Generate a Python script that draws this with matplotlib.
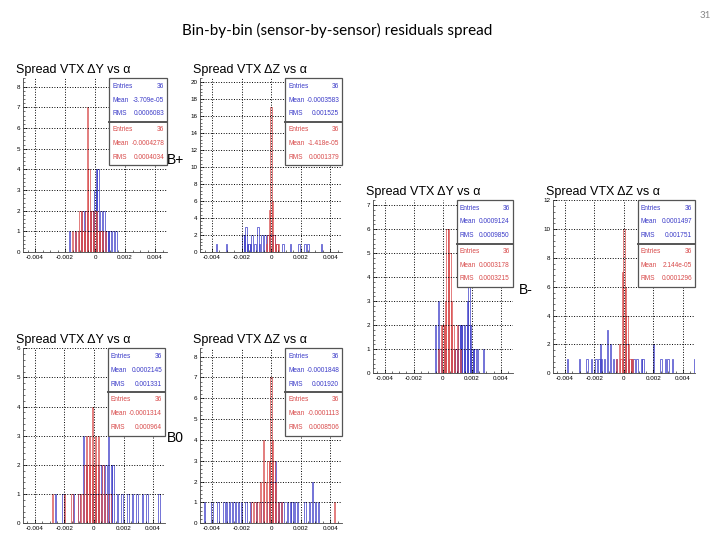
import numpy as np
import matplotlib.pyplot as plt
from matplotlib.patches import Rectangle

plt.rcParams['font.family'] = ['Liberation Sans', 'DejaVu Sans']

# ---- B+  dY (bin centre, entries) ----
bp_dy_blue_x = [-0.0017, -0.0013, -0.0010, -0.0008, -0.0006, -0.0004, -0.0003, -0.0002, -0.0001, 0.0000,
                0.0001, 0.0002, 0.0003, 0.0004, 0.0005, 0.0006, 0.0008, 0.0009, 0.0010, 0.0012, 0.0014]
bp_dy_blue_n = [1, 1, 1, 2, 2, 1, 2, 2, 2, 3, 4, 4, 1, 2, 1, 2, 1, 1, 1, 1, 1]
bp_dy_red_x = [-0.0015, -0.0013, -0.0011, -0.0010, -0.0009, -0.0008, -0.0007, -0.0006, -0.0005, -0.0004,
               -0.0003, -0.0002, -0.0001, 0.0000, 0.0001, 0.0002, 0.0003, 0.0004, 0.0005, 0.0007]
bp_dy_red_n = [1, 1, 1, 2, 2, 1, 1, 2, 7, 4, 2, 2, 1, 2, 2, 1, 1, 1, 1, 1]

# ---- B+  dZ ----
bp_dz_blue_x = [-0.0037, -0.0030, -0.0019, -0.0018, -0.0017, -0.0016, -0.0015, -0.0014, -0.0013, -0.0011,
                -0.0009, -0.0008, -0.0006, -0.0004, -0.0002, 0.0000, 0.0002, 0.0004, 0.0008, 0.0013,
                0.0019, 0.0023, 0.0025, 0.0034]
bp_dz_blue_n = [1, 1, 2, 2, 3, 1, 1, 1, 2, 1, 3, 1, 2, 2, 2, 2, 2, 1, 1, 1, 1, 1, 1, 1]
bp_dz_red_x = [-0.0003, -0.0002, -0.0001, 0.0000, 0.0001, 0.0002, 0.0003, 0.0004, 0.0005]
bp_dz_red_n = [1, 2, 5, 17, 6, 2, 1, 1, 1]

# ---- B-  dY ----
bm_dy_blue_x = [-0.0005, -0.0003, -0.0001, 0.0002, 0.0006, 0.0008, 0.0009, 0.0010, 0.0011, 0.0012, 0.0013,
                0.0014, 0.0015, 0.0016, 0.0017, 0.0018, 0.0019, 0.0020, 0.0021, 0.0022, 0.0024, 0.0028]
bm_dy_blue_n = [2, 3, 1, 1, 1, 1, 1, 1, 2, 2, 2, 2, 1, 2, 3, 4, 2, 1, 1, 1, 1, 1]
bm_dy_red_x = [-0.0003, -0.0001, 0.0000, 0.0001, 0.0002, 0.0003, 0.0004, 0.0005, 0.0006, 0.0007, 0.0008,
               0.0010, 0.0012]
bm_dy_red_n = [1, 2, 2, 2, 3, 6, 6, 5, 3, 2, 1, 2, 1]

# ---- B-  dZ ----
bm_dz_blue_x = [-0.0038, -0.0030, -0.0025, -0.0022, -0.0019, -0.0017, -0.0016, -0.0015, -0.0013, -0.0011,
                -0.0009, -0.0007, -0.0005, 0.0000, 0.0002, 0.0003, 0.0005, 0.0007, 0.0009, 0.0012, 0.0013,
                0.0020, 0.0025, 0.0028, 0.0030, 0.0033, 0.0048]
bm_dz_blue_n = [1, 1, 1, 1, 1, 1, 2, 1, 1, 3, 2, 1, 1, 1, 2, 1, 1, 1, 1, 1, 1, 2, 1, 1, 1, 1, 1]
bm_dz_red_x = [-0.0005, -0.0003, -0.0002, -0.0001, 0.0000, 0.0001, 0.0002, 0.0003, 0.0004, 0.0005, 0.0006]
bm_dz_red_n = [1, 2, 1, 7, 10, 6, 4, 2, 1, 1, 1]

# ---- B0  dY ----
b0_dy_blue_x = [-0.0026, -0.0021, -0.0014, -0.0010, -0.0007, -0.0005, -0.0002, 0.0000, 0.0002, 0.0003,
                0.0004, 0.0006, 0.0008, 0.0010, 0.0012, 0.0013, 0.0016, 0.0019, 0.0023, 0.0026, 0.0029,
                0.0033, 0.0036, 0.0044]
b0_dy_blue_n = [1, 1, 1, 1, 3, 2, 1, 1, 1, 1, 2, 2, 2, 5, 2, 2, 1, 1, 1, 1, 1, 1, 1, 1]
b0_dy_red_x = [-0.0028, -0.0020, -0.0015, -0.0010, -0.0008, -0.0006, -0.0005, -0.0004, -0.0003, -0.0002,
               -0.0001, 0.0000, 0.0001, 0.0002, 0.0003, 0.0004, 0.0006, 0.0008, 0.0011]
b0_dy_red_n = [1, 1, 1, 1, 1, 2, 3, 2, 3, 2, 4, 2, 3, 2, 3, 1, 2, 1, 1]

# ---- B0  dZ ----
b0_dz_blue_x = [-0.0045, -0.0040, -0.0036, -0.0032, -0.0030, -0.0028, -0.0026, -0.0024, -0.0022, -0.0020,
                -0.0017, -0.0014, -0.0010, -0.0006, -0.0002, 0.0000, 0.0002, 0.0003, 0.0005, 0.0006,
                0.0008, 0.0011, 0.0013, 0.0014, 0.0016, 0.0018, 0.0023, 0.0026, 0.0028, 0.0030, 0.0032]
b0_dz_blue_n = [1, 1, 1, 1, 1, 1, 1, 1, 1, 1, 1, 1, 1, 1, 1, 2, 2, 3, 1, 1, 1, 1, 1, 1, 1, 1, 1, 1, 2, 1, 1]
b0_dz_red_x = [-0.0013, -0.0011, -0.0009, -0.0007, -0.0005, -0.0004, -0.0002, -0.0001, 0.0000, 0.0001,
               0.0002, 0.0003, 0.0005, 0.0007, 0.0043]
b0_dz_red_n = [1, 1, 1, 2, 4, 2, 3, 3, 7, 4, 3, 2, 1, 1, 1]

# stats boxes: (entries, mean, rms)
bp_dy_stats = [("36", "-3.709e-05", "0.0006083"), ("36", "-0.0004278", "0.0004034")]
bp_dz_stats = [("36", "-0.0003583", "0.001525"), ("36", "-1.418e-05", "0.0001379")]
bm_dy_stats = [("36", "0.0009124", "0.0009850"), ("36", "0.0003178", "0.0003215")]
bm_dz_stats = [("36", "0.0001497", "0.001751"), ("36", "2.144e-05", "0.0001296")]
b0_dy_stats = [("36", "0.0002145", "0.001331"), ("36", "-0.0001314", "0.000964")]
b0_dz_stats = [("36", "-0.0001848", "0.001920"), ("36", "-0.0001113", "0.0008506")]

xticks = [-0.004, -0.002, 0, 0.002, 0.004]
xticklabels = ["-0.004", "-0.002", "0", "0.002", "0.004"]

blue = "#3b3bc8"
red = "#d84a4a"
edges = np.linspace(-0.00505, 0.00505, 102)

fig = plt.figure(figsize=(7.2, 5.4), dpi=100)


def panel(rect, title, bx, bn, rx, rn, stats, ystep):
    ax = fig.add_axes(rect)
    ax.hist(bx, bins=edges, weights=bn, histtype='bar', fill=False, edgecolor=blue, linewidth=0.5)
    ax.hist(rx, bins=edges, weights=rn, histtype='bar', fill=False, edgecolor=red, linewidth=0.5)
    top = 1.2 * max(max(bn), max(rn))
    ax.set_xlim(-0.0048, 0.0048)
    ax.set_ylim(0, top)
    ax.set_xticks(xticks)
    ax.set_xticklabels(xticklabels)
    ax.set_xticks(np.arange(-0.0045, 0.0046, 0.0005), minor=True)
    ax.set_yticks(np.arange(0, top + 0.01, ystep))
    ax.set_yticks(np.arange(0, top + 0.01, ystep / 5), minor=True)
    ax.tick_params(labelsize=4.5, direction='in', length=3, width=0.5, pad=2)
    ax.tick_params(which='minor', direction='in', length=1.5, width=0.4)
    ax.grid(True, linestyle=':', color='black', linewidth=0.7)
    for s in ['top', 'right']:
        ax.spines[s].set_visible(False)
    for s in ['left', 'bottom']:
        ax.spines[s].set_linewidth(0.6)
        ax.spines[s].set_color('#444444')
    ax.text(-0.05, 1.012, title, transform=ax.transAxes, fontsize=9, ha='left', va='bottom')

    # stat boxes
    ax.add_patch(Rectangle((0.6, 0.5), 0.4, 0.5, transform=ax.transAxes, facecolor='white',
                           edgecolor='#555555', linewidth=0.9, zorder=5, clip_on=False))
    ax.plot([0.6, 1.0], [0.75, 0.75], transform=ax.transAxes, color='#555555', lw=1.4, zorder=6,
            clip_on=False)
    for k, (col, st) in enumerate(zip([blue, red], stats)):
        y0 = 0.955 - k * 0.25
        for j, name in enumerate(["Entries", "Mean", "RMS"]):
            y = y0 - j * 0.08
            ax.text(0.62, y, name, transform=ax.transAxes, fontsize=4.7, color=col,
                    ha='left', va='center', zorder=7)
            ax.text(0.98, y, st[j], transform=ax.transAxes, fontsize=4.7, color=col,
                    ha='right', va='center', zorder=7)
    return ax


dy_title = "Spread VTX ΔY vs α"
dz_title = "Spread VTX ΔZ vs α"

panel([0.032, 0.533, 0.200, 0.322], dy_title, bp_dy_blue_x, bp_dy_blue_n, bp_dy_red_x, bp_dy_red_n, bp_dy_stats, 1)
panel([0.278, 0.533, 0.197, 0.322], dz_title, bp_dz_blue_x, bp_dz_blue_n, bp_dz_red_x, bp_dz_red_n, bp_dz_stats, 2)
panel([0.518, 0.309, 0.194, 0.320], dy_title, bm_dy_blue_x, bm_dy_blue_n, bm_dy_red_x, bm_dy_red_n, bm_dy_stats, 1)
panel([0.768, 0.309, 0.197, 0.320], dz_title, bm_dz_blue_x, bm_dz_blue_n, bm_dz_red_x, bm_dz_red_n, bm_dz_stats, 2)
panel([0.032, 0.031, 0.197, 0.324], dy_title, b0_dy_blue_x, b0_dy_blue_n, b0_dy_red_x, b0_dy_red_n, b0_dy_stats, 1)
panel([0.278, 0.031, 0.197, 0.324], dz_title, b0_dz_blue_x, b0_dz_blue_n, b0_dz_red_x, b0_dz_red_n, b0_dz_stats, 1)

fig.text(337 / 720, 1 - 30 / 540, "Bin-by-bin (sensor-by-sensor) residuals spread",
         fontsize=11, family=['Lato', 'DejaVu Sans'], ha='center', va='center')
fig.text(705 / 720, 1 - 15 / 540, "31", fontsize=7, color='#888888', ha='center', va='center',
         family=['Lato', 'DejaVu Sans'])
fig.text(167 / 720, 1 - 160 / 540, "B+", fontsize=10, ha='left', va='center')
fig.text(519 / 720, 1 - 290 / 540, "B-", fontsize=10, ha='left', va='center')
fig.text(167 / 720, 1 - 438 / 540, "B0", fontsize=10, ha='left', va='center')

fig.savefig("out.png", dpi=100)
